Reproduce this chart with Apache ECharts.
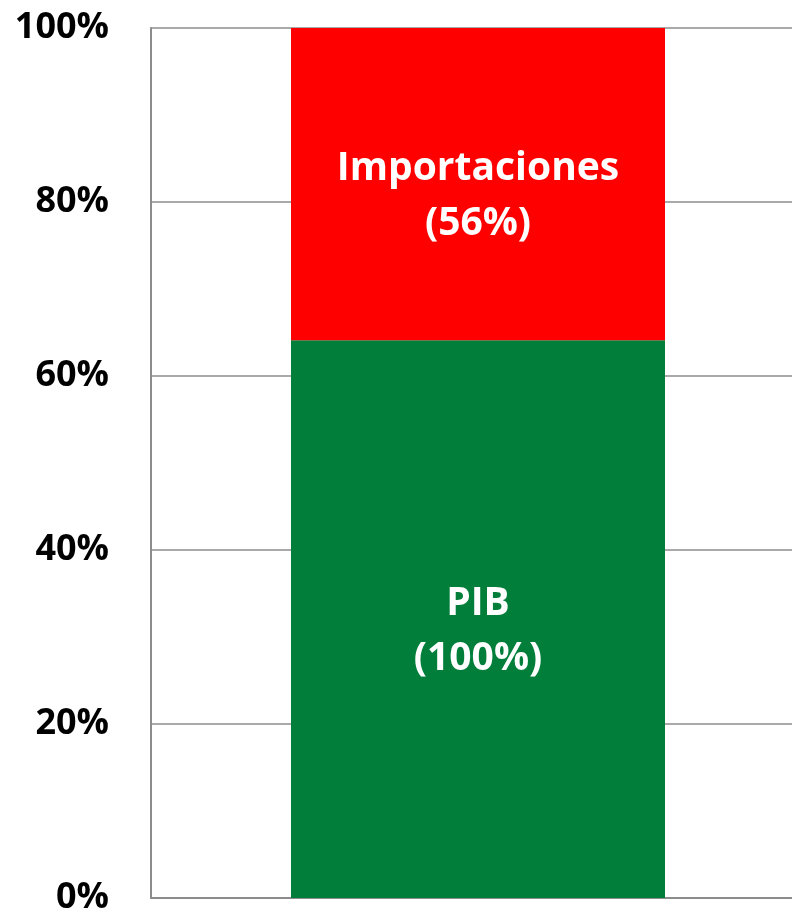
<!DOCTYPE html>
<html>
<head>
<meta charset="utf-8">
<script src="https://cdn.jsdelivr.net/npm/echarts@6/dist/echarts.min.js"></script>
<style>
  html, body { margin: 0; padding: 0; background: #fff; }
  #chart { width: 792px; height: 915px; }
</style>
</head>
<body>
<div id="chart"></div>
<script>
// raw values (PIB = 100)
const categories = [""];
const pib = [100];
const importaciones = [56];
const yTicks = [0, 20, 40, 60, 80, 100];

const font = "'Open Sans', 'Liberation Sans', sans-serif";

// 100% stacked: share of each part in total supply
const totals = pib.map((v, i) => v + importaciones[i]);
const pibShare = pib.map((v, i) => (v / totals[i]) * 100);
const impShare = importaciones.map((v, i) => (v / totals[i]) * 100);

const chart = echarts.init(document.getElementById("chart"));

const barLabel = (raw) => ({
  show: true,
  position: "inside",
  offset: [0, 12],
  color: "#fff",
  fontFamily: font,
  fontWeight: "bold",
  fontSize: 39,
  lineHeight: 55,
  formatter: (p) => p.seriesName + "\n(" + raw[p.dataIndex] + "%)",
});

chart.setOption({
  animation: false,
  backgroundColor: "#fff",
  grid: {
    left: 151,
    right: -13, // plot runs a bit past the right edge
    top: 28,
    bottom: 17,
    outerBoundsMode: "none",
  },
  xAxis: {
    type: "category",
    data: categories,
    axisTick: { show: false },
    axisLabel: { show: false },
    axisLine: { lineStyle: { color: "#8c8c8c", width: 2 } },
  },
  yAxis: {
    type: "value",
    min: yTicks[0],
    max: yTicks[yTicks.length - 1],
    interval: 20,
    axisLine: { show: true, lineStyle: { color: "#8c8c8c", width: 2 } },
    axisTick: { show: false },
    splitLine: { lineStyle: { color: "#8c8c8c", width: 1.5 } },
    axisLabel: {
      margin: 42,
      color: "#000",
      fontFamily: font,
      fontWeight: "bold",
      fontSize: 36,
      formatter: "{value}%",
    },
  },
  series: [
    {
      name: "PIB",
      type: "bar",
      stack: "total",
      barWidth: 374,
      data: pibShare,
      itemStyle: { color: "#007e3a" },
      label: barLabel(pib),
    },
    {
      name: "Importaciones",
      type: "bar",
      stack: "total",
      barWidth: 374,
      data: impShare,
      itemStyle: { color: "#ff0000" },
      label: barLabel(importaciones),
    },
  ],
});
</script>
</body>
</html>
